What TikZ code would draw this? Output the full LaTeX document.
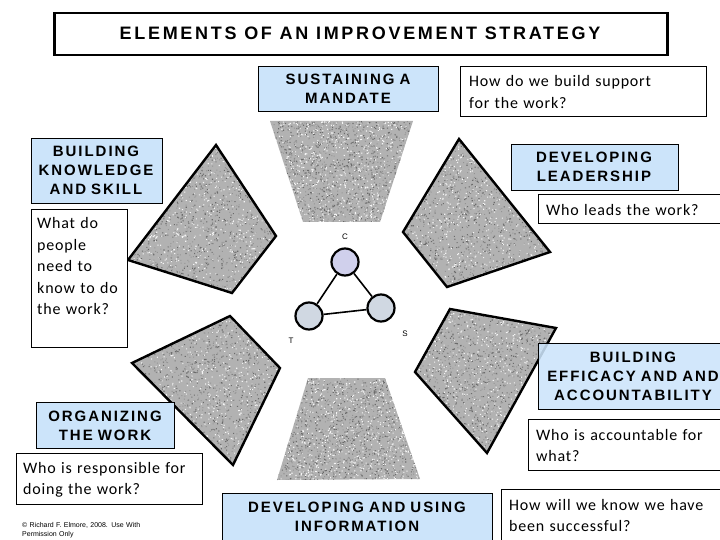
\documentclass[tikz,border=0pt]{standalone}
\usepackage{fontspec}
\newfontfamily\hfont[LetterSpace=13]{Liberation Sans}
\newfontfamily\tfont[LetterSpace=15]{Liberation Sans}
\newfontfamily\qfont[LetterSpace=5]{Carlito}
\newfontfamily\sfont{Liberation Sans}
\definecolor{lblue}{RGB}{204,228,250}
\definecolor{cfill}{RGB}{208,208,236}
\definecolor{tfill}{RGB}{208,216,226}
\definecolor{gbase}{RGB}{178,178,178}
\tikzset{
 hbox/.style={draw=black, line width=0.9pt, fill=lblue, inner sep=0pt, anchor=north west},
 qbox/.style={draw=black, line width=0.9pt, fill=white, inner sep=0pt, anchor=north west},
 htext/.style={font=\hfont\bfseries\fontsize{15}{19}\selectfont, align=center, inner sep=0pt, anchor=base, text width=220pt},
 qtext/.style={font=\qfont\fontsize{16}{21.5}\selectfont, align=left, inner sep=0pt, anchor=base west, text width=220pt},
 vert/.style={circle, draw=black, line width=2.2pt, minimum size=27pt, inner sep=0pt},
 lbl/.style={font=\sfont\fontsize{8}{9}\selectfont, inner sep=0pt, anchor=base},
 edge/.style={line width=1.6pt},
 outline/.style={draw=black, line width=2.4pt, line join=miter},
}
% #1 path (without cycle), #2 xmin, #3 ymin, #4 width, #5 height
\newcommand\granitepoly[5]{%
 \begin{scope}
  \fill[gbase] #1 -- cycle;
  \clip #1 -- cycle;
  \fill[black!58] \foreach \k in {1,...,700}{ ({#2+rnd*#4},{#3+rnd*#5}) rectangle ++(1.1,1.1) };
  \fill[white!92!gray] \foreach \k in {1,...,700}{ ({#2+rnd*#4},{#3+rnd*#5}) rectangle ++(1.1,1.1) };
  \fill[black!42] \foreach \k in {1,...,700}{ ({#2+rnd*#4},{#3+rnd*#5}) rectangle ++(1.0,1.0) };
 \end{scope}}
\begin{document}
\begin{tikzpicture}[x=1pt,y=-1pt]
\useasboundingbox (0,0) rectangle (720,540);
\pgfmathsetseed{7}
% granite shapes
\granitepoly{(270,121) -- (413,121) -- (380,222) -- (303,222)}{270}{121}{143}{101}
\granitepoly{(216,145) -- (276,236) -- (232,293) -- (128,260)}{128}{145}{148}{148}
\path[outline] (216,145) -- (276,236) -- (232,293) -- (128,260) -- cycle;
\granitepoly{(459,139) -- (550,252) -- (447,287) -- (403,232)}{403}{139}{147}{148}
\path[outline] (459,139) -- (550,252) -- (447,287) -- (403,232) -- cycle;
\granitepoly{(230,316) -- (280,368) -- (233,465) -- (132,363)}{132}{316}{148}{149}
\path[outline] (230,316) -- (280,368) -- (233,465) -- (132,363) -- cycle;
\granitepoly{(450,309) -- (556,328) -- (487,453) -- (415,372)}{415}{309}{141}{144}
\path[outline] (450,309) -- (556,328) -- (487,453) -- (415,372) -- cycle;
\granitepoly{(308,378) -- (385,378) -- (420,479) -- (277,480)}{277}{378}{143}{102}

% title
\node[draw=black, line width=2.5pt, fill=white, inner sep=0pt, anchor=north west, minimum width=613pt, minimum height=42pt] (titlebox) at (53,12) {};
\node[font=\tfont\bfseries\fontsize{18}{20}\selectfont, inner sep=0pt, anchor=base] (title) at (360,40) {ELEMENTS OF AN IMPROVEMENT STRATEGY};

% heading boxes
\node[hbox, minimum width=180pt, minimum height=45pt] (smbox) at (258,66) {};
\node[htext] (sm) at (348,85) {SUSTAINING A\\MANDATE};
\node[hbox, minimum width=131pt, minimum height=65pt] (bkbox) at (31,138) {};
\node[htext] (bk) at (96,157) {BUILDING\\KNOWLEDGE\\AND SKILL};
\node[hbox, minimum width=167pt, minimum height=46pt] (dlbox) at (511,144) {};
\node[htext] (dl) at (594,163) {DEVELOPING\\LEADERSHIP};
\node[hbox, minimum width=138pt, minimum height=46pt] (owbox) at (36,402) {};
\node[htext] (ow) at (105,421) {ORGANIZING\\THE WORK};
\node[hbox, fill opacity=0.88, minimum width=190pt, minimum height=66pt] (bebox) at (538,343) {};
\node[htext] (be) at (633,362) {BUILDING\\EFFICACY AND AND\\ACCOUNTABILITY};
\node[hbox, minimum width=270pt, minimum height=55pt] (dubox) at (222,493) {};
\node[htext] (du) at (357,512) {DEVELOPING AND USING\\INFORMATION};

% question boxes
\node[qbox, minimum width=246pt, minimum height=50pt] (q1box) at (460,66) {};
\node[qtext] (q1) at (469,87) {How do we build support\\for the work?};
\node[qbox, minimum width=96pt, minimum height=138pt] (q2box) at (31,209) {};
\node[qtext] (q2) at (37,229) {What do\\people\\need to\\know to do\\the work?};
\node[qbox, minimum width=190pt, minimum height=29pt] (q3box) at (538,194) {};
\node[qtext] (q3) at (546,215) {Who leads the work?};
\node[qbox, minimum width=186pt, minimum height=51pt] (q4box) at (16,453) {};
\node[qtext] (q4) at (23,473) {Who is responsible for\\doing the work?};
\node[qbox, minimum width=200pt, minimum height=51pt] (q5box) at (528,419) {};
\node[qtext] (q5) at (536,440) {Who is accountable for\\what?};
\node[qbox, minimum width=225pt, minimum height=56pt] (q6box) at (501,489) {};
\node[qtext] (q6) at (509,510) {How will we know we have\\been successful?};

% copyright
\node[font=\sfont\fontsize{7}{9.5}\selectfont, align=left, inner sep=0pt, anchor=base west, text width=200pt] (copy) at (22,527) {© Richard F. Elmore, 2008. Use With\\Permission Only};

% C-T-S triangle
\node[vert, fill=cfill] (c) at (345,262) {};
\node[vert, fill=tfill] (t) at (309,316) {};
\node[vert, fill=tfill] (s) at (381,308) {};
\draw[edge] (c) -- (t);
\draw[edge] (c) -- (s);
\draw[edge] (t) -- (s);
\node[lbl] (cl) at (345,240) {C};
\node[lbl] (tl) at (291,343) {T};
\node[lbl] (sl) at (405,336) {S};
\end{tikzpicture}
\end{document}
